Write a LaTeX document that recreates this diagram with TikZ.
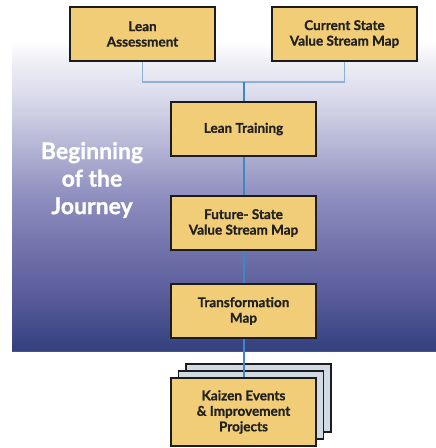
\documentclass[tikz,border=0pt]{standalone}
\usepackage{fontspec}
\setmainfont{Lato}[BoldFont={Lato Bold},BoldFeatures={FakeBold=1}]
\definecolor{boxfill}{HTML}{F2CD78}
\definecolor{boxline}{HTML}{1C1C1C}
\definecolor{boxtext}{HTML}{222222}
\definecolor{stackfill}{HTML}{D1D9E4}
\definecolor{feedblue}{HTML}{8DB0D6}
\definecolor{flowblue}{HTML}{3F86C2}
\definecolor{rimred}{HTML}{A03060}
\definecolor{bandA}{HTML}{33417F}
\definecolor{bandB}{HTML}{585A98}
\definecolor{bandC}{HTML}{6C6DA7}
\definecolor{bandD}{HTML}{8C8CBE}
\definecolor{bandE}{HTML}{B2B2D4}
\definecolor{bandF}{HTML}{D8D8EA}
\definecolor{bandG}{HTML}{F0F0F7}
\definecolor{bandH}{HTML}{FFFFFF}
\begin{document}
\begin{tikzpicture}[x=1pt,y=-1pt,
  stepbox/.style={draw=boxline,line width=1.4pt,fill=boxfill,minimum width=145pt,minimum height=54pt,
    inner sep=0pt,align=center,font=\bfseries\fontsize{13.5}{15.5}\selectfont,text=boxtext},
  stackbox/.style={draw=boxline,line width=1.4pt,fill=stackfill,minimum width=145pt,minimum height=68pt},
  feeder/.style={draw=feedblue,line width=1.3pt},
  flow/.style={draw=flowblue,line width=2pt}]
\useasboundingbox (0,0) rectangle (436,448);
% band behind the early stages, built from thin strips: white at the top, navy at the bottom
\foreach \ya/\yb/\ca/\cb in {42/60/bandH/bandG, 60/100/bandG/bandF, 100/150/bandF/bandE,
    150/200/bandE/bandD, 200/260/bandD/bandC, 260/300/bandC/bandB, 300/351/bandB/bandA} {
  \foreach \k in {0,...,19} {
    \pgfmathsetmacro\pct{100-(\k+0.5)*5}
    \pgfmathsetmacro\yy{\ya+(\yb-\ya)*\k/20}
    \pgfmathsetmacro\yz{min(\ya+(\yb-\ya)*(\k+1)/20+0.6,\yb)}
    \fill[\ca!\pct!\cb] (12,\yy) rectangle (436,\yz);
  }
}
\draw[rimred,line width=0.8pt] (12,351) -- (436,351);
% side caption
\node[text=white,font=\bfseries\fontsize{23}{27.5}\selectfont,align=center] (caption) at (92,180)
  {Beginning\\of the\\Journey};
% stages
\node[stepbox] (assess) at (142.5,34) {Lean\\Assessment};
\node[stepbox] (current) at (344.5,34) {Current State\\Value Stream Map};
\node[stepbox] (training) at (243.5,129) {Lean Training};
\node[stepbox] (future) at (243.5,223) {Future- State\\Value Stream Map};
\node[stepbox] (transform) at (243.5,311) {Transformation\\Map};
% stacked sheets behind the last stage
\node[stackbox] (sheetC) at (258.5,398) {};
\node[stackbox] (sheetB) at (251,405) {};
\node[stepbox,minimum height=68pt] (kaizen) at (243.5,412) {Kaizen Events\\\& Improvement\\Projects};
% connectors
\coordinate (join) at (243.5,82);
\draw[feeder] (assess.south) |- (join);
\draw[feeder] (current.south) |- (join);
\draw[flow] (join) -- (training.north);
\draw[flow] (training.south) -- (future.north);
\draw[flow] (future.south) -- (transform.north);
\draw[flow] (transform.south) -- (kaizen.north);
\end{tikzpicture}
\end{document}
